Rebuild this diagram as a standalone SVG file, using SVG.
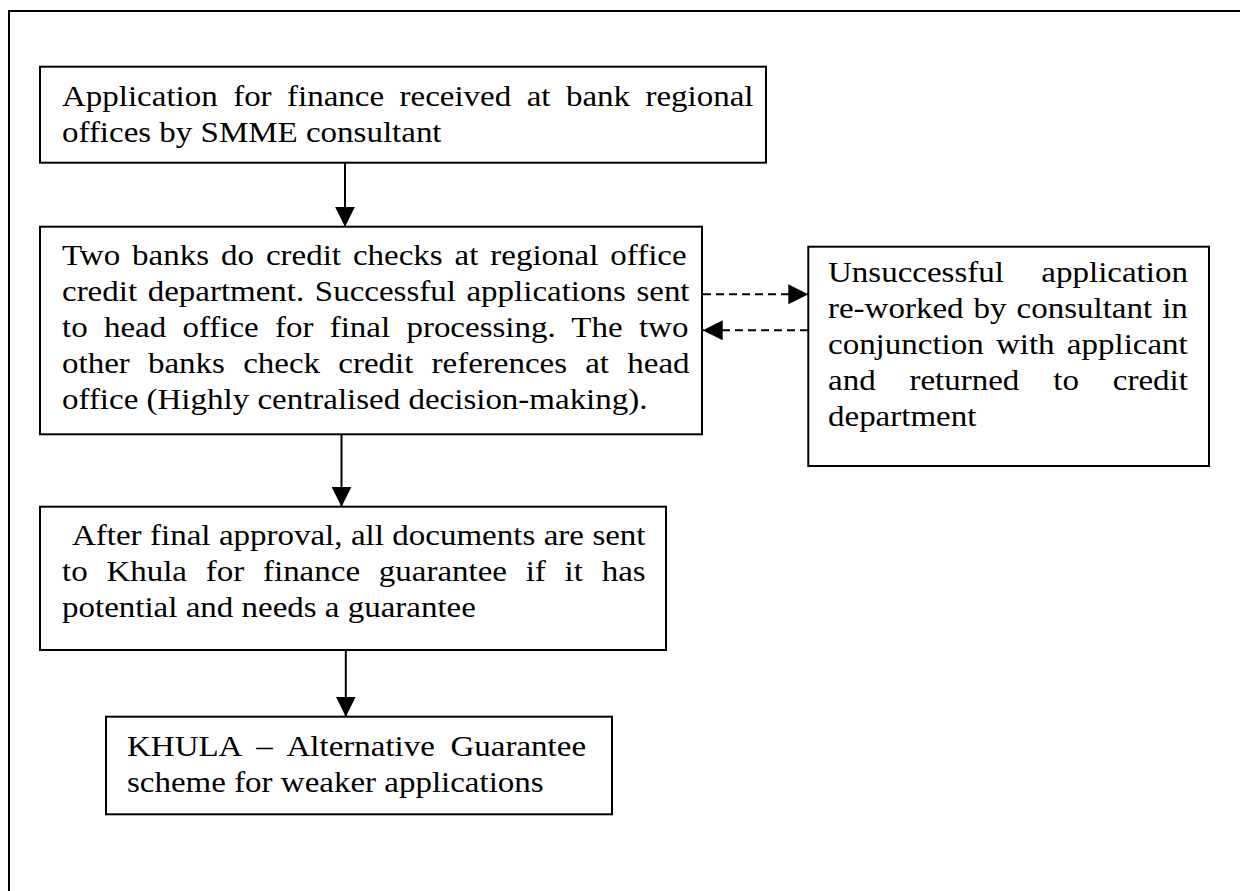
<svg xmlns="http://www.w3.org/2000/svg" width="1240" height="891" viewBox="0 0 1240 891">
<style>
.frame{fill:none;stroke:#000;stroke-width:2}
.box{fill:#fff;stroke:#000;stroke-width:2}
.t{font-family:"Liberation Serif","Times New Roman",serif;font-size:30px;fill:#000}
.conn{stroke:#000;stroke-width:2;fill:none}
.dash{stroke:#000;stroke-width:2;fill:none;stroke-dasharray:8 5}
</style>
<defs>
<marker id="ah" markerUnits="userSpaceOnUse" markerWidth="20" markerHeight="20" refX="20" refY="10" orient="auto">
<path d="M0,0 L20,10 L0,20 z" fill="#000"/>
</marker>
</defs>
<path class="frame" d="M9,891 V11 H1240"/>

<g id="connectors">
<line class="conn" x1="345" y1="163" x2="345" y2="226.7" marker-end="url(#ah)"/>
<line class="conn" x1="341.5" y1="434.5" x2="341.5" y2="506.7" marker-end="url(#ah)"/>
<line class="conn" x1="345.8" y1="650" x2="345.8" y2="716.7" marker-end="url(#ah)"/>
<line class="dash" x1="703" y1="294.3" x2="808.3" y2="294.3" marker-end="url(#ah)"/>
<line class="dash" x1="808" y1="330.3" x2="702.7" y2="330.3" marker-end="url(#ah)"/>
</g>

<g id="n1">
<rect class="box" x="40" y="66.7" width="726" height="96"/>
<g transform="translate(62,0) scale(1.1,1)">
<text class="t" x="0" y="106" word-spacing="6.55">Application for finance received at bank regional</text>
<text class="t" x="0" y="142.5">offices by SMME consultant</text>
</g>
</g>

<g id="n2">
<rect class="box" x="40" y="226.7" width="662" height="207.6"/>
<g transform="translate(62,0) scale(1.1,1)">
<text class="t" x="0" y="265" word-spacing="3.36">Two banks do credit checks at regional office</text>
<text class="t" x="0" y="301" word-spacing="2.13">credit department. Successful applications sent</text>
<text class="t" x="0" y="337" word-spacing="7.29">to head office for final processing. The two</text>
<text class="t" x="0" y="373" word-spacing="9.07">other banks check credit references at head</text>
<text class="t" x="0" y="409">office (Highly centralised decision-making).</text>
</g>
</g>

<g id="n3">
<rect class="box" x="808.3" y="246.7" width="400.7" height="219.3"/>
<g transform="translate(828,0) scale(1.1,1)">
<text class="t" x="0" y="282.5" word-spacing="26.6">Unsuccessful application</text>
<text class="t" x="0" y="318.5" word-spacing="1.63">re-worked by consultant in</text>
<text class="t" x="0" y="354.5" word-spacing="3.65">conjunction with applicant</text>
<text class="t" x="0" y="390.5" word-spacing="23.3">and returned to credit</text>
<text class="t" x="0" y="426.5">department</text>
</g>
</g>

<g id="n4">
<rect class="box" x="40" y="506.7" width="626" height="143.3"/>
<g transform="translate(62,0) scale(1.1,1)">
<text class="t" x="9.09" y="545" word-spacing="0.18">After final approval, all documents are sent</text>
<text class="t" x="0" y="581" word-spacing="9.56">to Khula for finance guarantee if it has</text>
<text class="t" x="0" y="617">potential and needs a guarantee</text>
</g>
</g>

<g id="n5">
<rect class="box" x="106" y="716.7" width="506" height="97.6"/>
<g transform="translate(127,0) scale(1.1,1)">
<text class="t" x="0" y="756" word-spacing="6.73">KHULA – Alternative Guarantee</text>
<text class="t" x="0" y="792.5">scheme for weaker applications</text>
</g>
</g>
</svg>
